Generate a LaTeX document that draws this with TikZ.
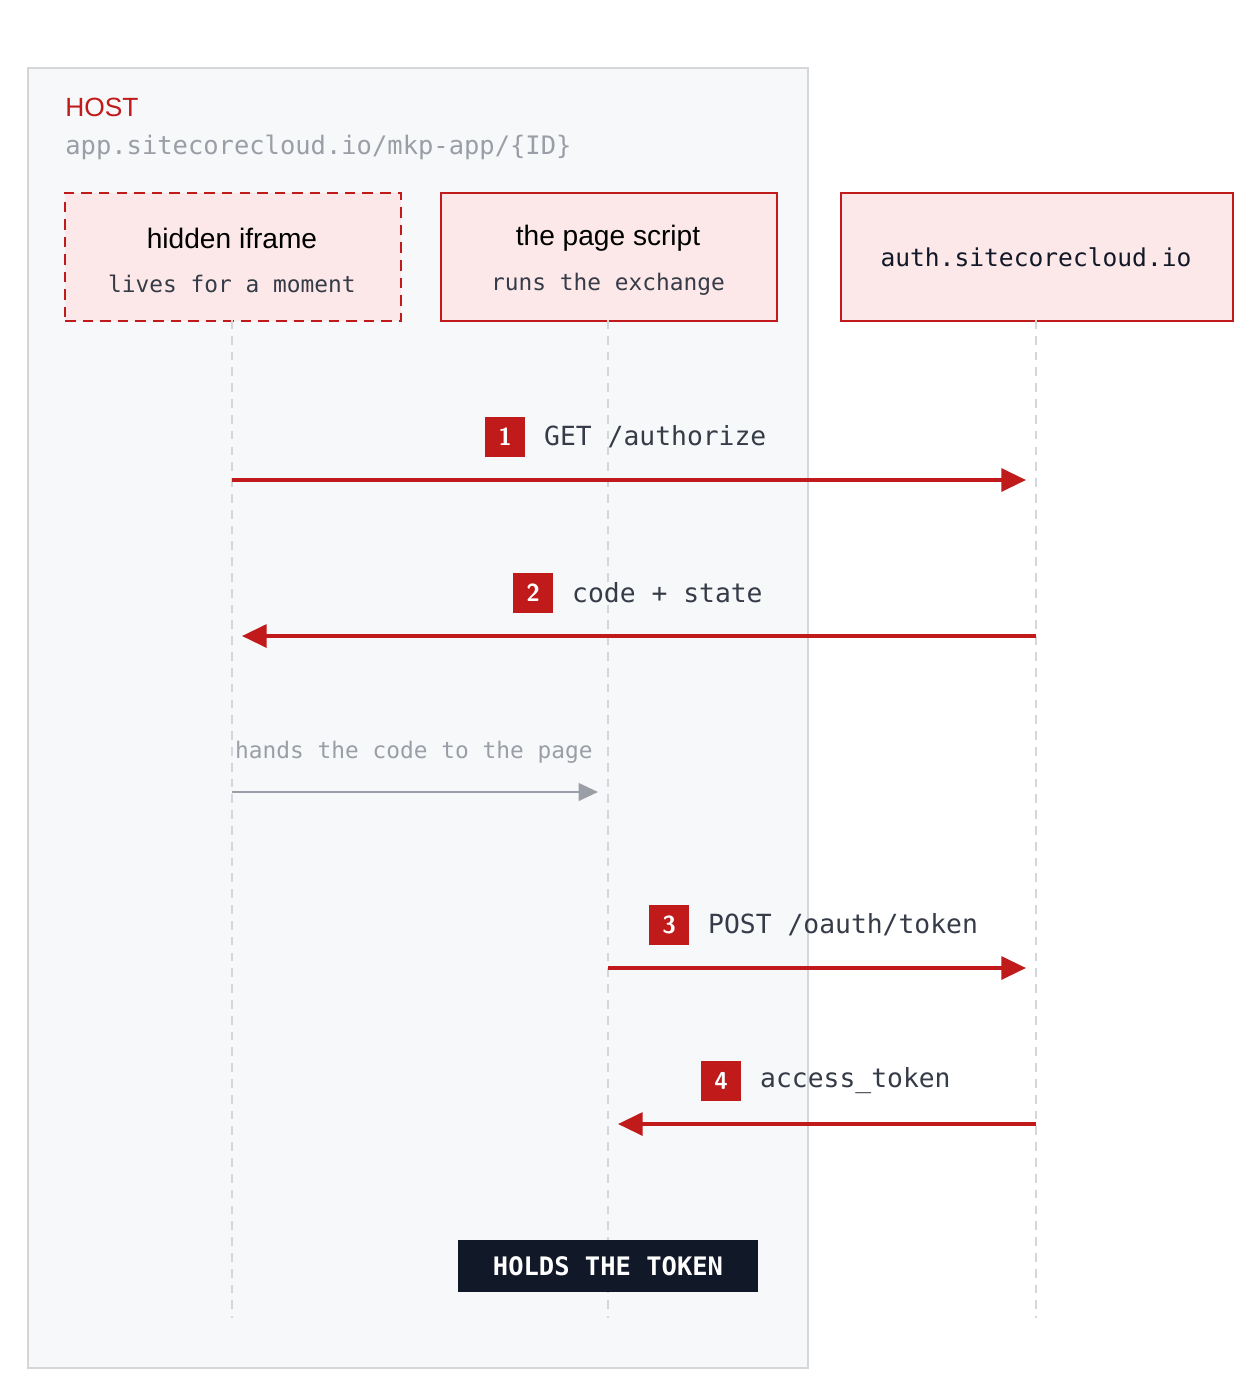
\documentclass[tikz,border=0pt]{standalone}
\usepackage{fontspec}
\setmainfont{Liberation Sans}
\setmonofont{DejaVu Sans Mono}
\usetikzlibrary{arrows.meta,positioning}
\definecolor{hostbg}{HTML}{F7F8FA}
\definecolor{hostline}{HTML}{D4D6DA}
\definecolor{accent}{HTML}{C01A1A}
\definecolor{pinkbg}{HTML}{FCE8E9}
\definecolor{mutegray}{HTML}{9A9EA6}
\definecolor{ink}{HTML}{111827}
\tikzset{
  actor/.style={draw=accent, line width=1.3pt, fill=pinkbg, minimum width=6.72cm, minimum height=2.56cm, anchor=north west},
  life/.style={draw=hostline, line width=1pt, dash pattern=on 5pt off 4pt},
  msg/.style={draw=accent, line width=2pt, -{Triangle[length=14pt,width=13pt]}},
  badge/.style={fill=accent, text=white, font=\sffamily\bfseries\fontsize{14}{16}\selectfont, minimum size=0.8cm, inner sep=0pt},
  lbl/.style={font=\ttfamily\fontsize{15}{17}\selectfont, text=ink!85},
}
\begin{document}
\begin{tikzpicture}[x=0.02cm,y=-0.02cm]
  \useasboundingbox (0,0) rectangle (1260,1400);
  % host panel
  \draw[draw=hostline, line width=1pt, fill=hostbg] (28,68) rectangle (808,1368);
  \node[anchor=west, inner sep=0pt, text=accent, font=\fontsize{15}{18}\selectfont] (host) at (65,107) {HOST};
  \node[anchor=west, text=mutegray, font=\ttfamily\fontsize{14.5}{17}\selectfont, inner sep=0pt] (url) at (65,147) {app.sitecorecloud.io/mkp-app/\{ID\}};

  % actors
  \node[actor, dashed, dash pattern=on 6pt off 4pt] (iframe) at (64,192) {};
  \node[font=\fontsize{16}{18}\selectfont] at (232,238) {hidden iframe};
  \node[lbl, font=\ttfamily\fontsize{13}{15}\selectfont] at (232,284) {lives for a moment};
  \node[actor] (page) at (440,192) {};
  \node[font=\fontsize{16}{18}\selectfont] at (608,238) {the page script};
  \node[lbl, font=\ttfamily\fontsize{13}{15}\selectfont] at (608,284) {runs the exchange};
  \node[actor, minimum width=7.84cm] (auth) at (840,192) {};
  \node[lbl, font=\ttfamily\fontsize{14}{16}\selectfont, text=ink] at (1036,257) {auth.sitecorecloud.io};

  % lifelines
  \coordinate (a0) at (232,320); \coordinate (a1) at (232,1318);
  \coordinate (b0) at (608,320); \coordinate (b1) at (608,1318);
  \coordinate (c0) at (1036,320); \coordinate (c1) at (1036,1318);
  \draw[life] (a0) -- (a1);
  \draw[life] (b0) -- (b1);
  \draw[life] (c0) -- (c1);

  % messages
  \coordinate (m1s) at (232,480); \coordinate (m1e) at (1026,480);
  \draw[msg] (m1s) -- (m1e);
  \node[lbl, anchor=west] (t1) at (538,437) {GET /authorize};
  \node[badge, left=0.25cm of t1] (n1) {1};

  \coordinate (m2s) at (1036,636); \coordinate (m2e) at (242,636);
  \draw[msg] (m2s) -- (m2e);
  \node[lbl, anchor=west] (t2) at (566,593) {code + state};
  \node[badge, left=0.25cm of t2] (n2) {2};

  \coordinate (m0s) at (232,792); \coordinate (m0e) at (598,792);
  \draw[draw=mutegray, line width=1.4pt, -{Triangle[length=11pt,width=10pt]}] (m0s) -- (m0e);
  \node[lbl, text=mutegray, font=\ttfamily\fontsize{13}{15}\selectfont] (t0) at (414,752) {hands the code to the page};

  \coordinate (m3s) at (608,968); \coordinate (m3e) at (1026,968);
  \draw[msg] (m3s) -- (m3e);
  \node[lbl, anchor=west] (t3) at (702,925) {POST /oauth/token};
  \node[badge, left=0.25cm of t3] (n3) {3};

  \coordinate (m4s) at (1036,1124); \coordinate (m4e) at (618,1124);
  \draw[msg] (m4s) -- (m4e);
  \node[lbl, anchor=west] (t4) at (754,1081) {access\_token};
  \node[badge, left=0.25cm of t4] (n4) {4};

  % holder tag
  \node[fill=ink, text=white, font=\ttfamily\bfseries\fontsize{14.5}{16}\selectfont, minimum width=6cm, minimum height=1.04cm] (holds) at (608,1266) {HOLDS THE TOKEN};
\end{tikzpicture}
\end{document}
